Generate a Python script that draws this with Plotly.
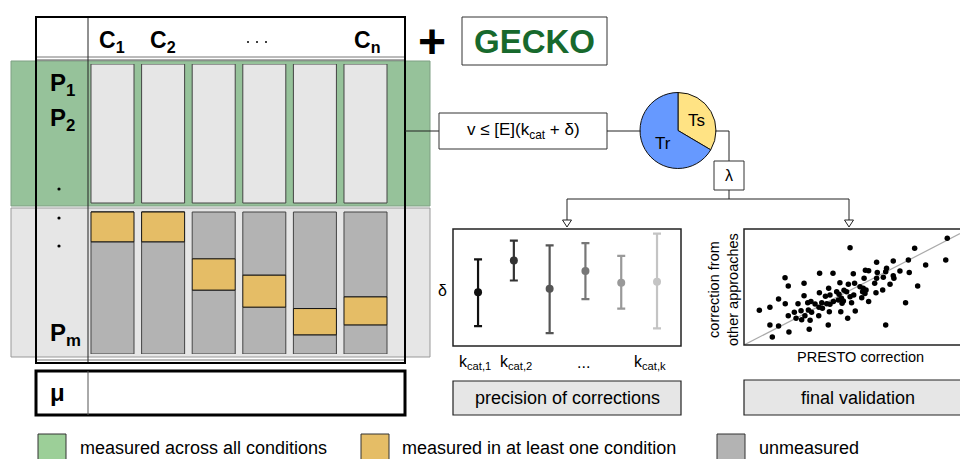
import plotly.graph_objects as go

W, H = 960, 459
FONT = "Liberation Sans, Arial, sans-serif"

# ---------------- data ----------------
condition_labels = ["C<sub>1</sub>", "C<sub>2</sub>", ". . .", "C<sub>n</sub>"]
protein_labels = ["P<sub>1</sub>", "P<sub>2</sub>", "P<sub>m</sub>"]
conditions = [1, 2, 3, 4, 5, 6]
# fraction of the lower protein block (bottom -> top)
unmeasured_low = [0.79, 0.79, 0.45, 0.33, 0.135, 0.205]
measured_some = [0.21, 0.21, 0.22, 0.225, 0.185, 0.197]

pie_labels = ["Ts", "Tr"]
pie_values = [33.5, 66.5]

kcat_labels = ["k<sub>cat,1</sub>", "k<sub>cat,2</sub>", "...", "k<sub>cat,k</sub>"]
kcat_mean = [4.6, 7.3, 4.9, 6.4, 5.4, 5.5]
kcat_upper = [7.4, 9.0, 8.6, 8.8, 7.7, 9.6]
kcat_lower = [1.7, 5.6, 1.1, 4.0, 3.2, 1.5]
kcat_colors = ["#111111", "#333333", "#555555", "#777777", "#999999", "#c4c4c4"]

presto_x = [94.1, 49.1, 79.0, 69.1, 61.4, 76.1, 93.4, 84.1, 57.7, 56.2, 66.0, 65.6,
            35.0, 41.2, 50.6, 19.0, 61.7, 76.5, 72.2, 69.1, 69.4, 64.5, 61.4, 55.6,
            20.5, 27.8, 44.4, 48.3, 51.2, 60.5, 67.6, 80.4, 39.2, 34.9, 42.9, 46.3,
            47.5, 53.7, 55.2, 56.5, 50.8, 54.9, 56.0, 64.2, 61.1, 27.8, 37.7, 39.8,
            44.0, 45.1, 43.7, 46.0, 41.4, 49.1, 16.0, 19.1, 25.0, 29.5, 31.0, 32.9,
            36.0, 38.3, 39.8, 49.8, 54.5, 57.7, 45.4, 74.8, 7.1, 12.0, 23.3, 26.4,
            29.8, 31.3, 34.7, 36.3, 39.5, 44.8, 51.5, 20.5, 24.1, 26.7, 28.2, 30.6,
            34.6, 48.0, 12.0, 16.0, 39.0, 65.6, 30.2, 20.8, 13.1]
other_y = [92.0, 83.9, 83.3, 72.4, 71.3, 73.3, 73.3, 69.0, 64.1, 64.4, 66.1, 63.2,
           61.8, 61.8, 61.5, 58.0, 62.6, 62.4, 63.8, 59.8, 57.5, 58.3, 57.5, 57.5,
           50.9, 53.2, 53.7, 52.3, 53.2, 53.2, 52.3, 50.9, 48.9, 45.1, 46.0, 47.1,
           46.0, 50.3, 48.9, 47.4, 43.1, 46.0, 44.5, 47.4, 45.1, 42.5, 42.0, 43.1,
           43.7, 40.2, 38.8, 37.9, 37.4, 41.7, 39.7, 35.6, 35.6, 36.5, 37.4, 35.3,
           36.5, 35.6, 35.1, 36.5, 40.8, 37.4, 35.9, 36.5, 29.9, 32.5, 28.2, 29.6,
           30.2, 28.2, 32.5, 31.6, 28.7, 28.7, 29.3, 25.3, 23.0, 21.8, 25.3, 21.3,
           25.3, 23.0, 17.2, 16.4, 17.2, 17.2, 13.5, 11.2, 6.9]
identity_x = [0, 100]
identity_y = [0, 96]

legend_labels = ["measured across all conditions", "measured in at least one condition", "unmeasured"]

# ---------------- styles ----------------
GREEN_BAND = "#96c29a"
GREEN_LEG = "#9ccf98"
LIGHT = "#e6e6e6"
GRAY = "#b3b3b3"
YELLOW = "#e5bd66"
BLUE = "#6699ff"
PALE_YEL = "#ffe384"

fig = go.Figure()

# stacked columns (lower block: unmeasured / measured in one / unmeasured; upper block: measured in all)
upper_base = 151 / 142
upper_h = 139 / 142
mid_base = unmeasured_low
top_base = [a + b for a, b in zip(unmeasured_low, measured_some)]
top_h = [1 - t for t in top_base]
bar_common = dict(xaxis="x3", yaxis="y3", width=0.85, hoverinfo="skip", showlegend=False)
fig.add_trace(go.Bar(x=conditions, y=[upper_h] * 6, base=[upper_base] * 6,
                     marker=dict(color=LIGHT, line=dict(color="#444", width=1)), **bar_common))
fig.add_trace(go.Bar(x=conditions, y=unmeasured_low, base=[0] * 6,
                     marker=dict(color=GRAY, line=dict(color="#444", width=1)), **bar_common))
fig.add_trace(go.Bar(x=conditions, y=top_h, base=top_base,
                     marker=dict(color=GRAY, line=dict(color="#444", width=1)), **bar_common))
fig.add_trace(go.Bar(x=conditions, y=measured_some, base=mid_base,
                     marker=dict(color=YELLOW, line=dict(color="#111", width=1)), **bar_common))

# pie
fig.add_trace(go.Pie(labels=pie_labels, values=pie_values, sort=False, direction="clockwise",
                     rotation=0, textinfo="none", hoverinfo="skip", showlegend=False,
                     marker=dict(colors=[PALE_YEL, BLUE], line=dict(color="#111", width=1)),
                     domain=dict(x=[640 / W, 716 / W], y=[1 - 168.5 / H, 1 - 92.5 / H])))

# error bars
for i, (m, up, lo, c) in enumerate(zip(kcat_mean, kcat_upper, kcat_lower, kcat_colors)):
    fig.add_trace(go.Scatter(x=[i], y=[m], mode="markers", xaxis="x2", yaxis="y2",
                             marker=dict(color=c, size=8),
                             error_y=dict(type="data", symmetric=False, array=[up - m],
                                          arrayminus=[m - lo], color=c, thickness=2.2, width=4),
                             hoverinfo="skip", showlegend=False))

# scatter validation
fig.add_trace(go.Scatter(x=identity_x, y=identity_y, mode="lines", xaxis="x4", yaxis="y4",
                         line=dict(color="#aaaaaa", width=1.2), hoverinfo="skip", showlegend=False))
fig.add_trace(go.Scatter(x=presto_x, y=other_y, mode="markers", xaxis="x4", yaxis="y4",
                         marker=dict(color="black", size=5.5), hoverinfo="skip", showlegend=False))

shapes = []


def rect(x0, y0, x1, y1, fill="rgba(0,0,0,0)", lc="black", lw=1, layer="above"):
    shapes.append(dict(type="rect", xref="x", yref="y", x0=x0, y0=y0, x1=x1, y1=y1,
                       fillcolor=fill, line=dict(color=lc, width=lw), layer=layer))


def seg(x0, y0, x1, y1, lc="#222", lw=1, layer="above"):
    shapes.append(dict(type="line", xref="x", yref="y", x0=x0, y0=y0, x1=x1, y1=y1,
                       line=dict(color=lc, width=lw), layer=layer))


def dot(x, y, r=1.6):
    shapes.append(dict(type="circle", xref="x", yref="y", x0=x - r, y0=y - r, x1=x + r, y1=y + r,
                       fillcolor="black", line=dict(width=0), layer="above"))


# background bands
rect(11, 61, 430, 206, fill=GREEN_BAND, lc="#7f9f83", lw=1, layer="below")
rect(11, 208, 430, 357, fill=LIGHT, lc="#999", lw=1, layer="below")
# table frame
seg(36, 57, 405, 57, lc="#777", lw=1)
seg(36, 60, 405, 60, lc="#555", lw=1)
seg(36, 360, 405, 360, lc="#777", lw=1)
seg(88, 17, 88, 363, lc="#222", lw=1)
rect(36, 17, 405, 363, lc="black", lw=2)
# mu row
rect(36, 371, 405, 415, fill="white", lc="black", lw=3)
seg(88, 371, 88, 415, lc="#555", lw=1)
# dots in protein column
for yy in (189, 218, 246):
    dot(59, yy)
for xx in (248, 257, 266):
    dot(xx, 42, 1.0)
# GECKO box
rect(462, 17, 607, 65, lc="#333", lw=1)
# formula box and connectors
seg(405, 131, 439, 131)
rect(439, 113, 607, 149, fill="white", lc="#333", lw=1)
seg(607, 131, 641, 131)
seg(715, 131, 729, 131)
seg(729, 131, 729, 161)
rect(714, 161, 744, 190, fill="white", lc="#333", lw=1)
seg(729, 190, 729, 199)
seg(567, 199, 849, 199)
seg(567, 199, 567, 220)
seg(849, 199, 849, 220)
for ax_ in (567, 849):
    shapes.append(dict(type="path", xref="x", yref="y",
                       path=f"M {ax_-4.5},220 L {ax_+4.5},220 L {ax_},227 Z",
                       fillcolor="white", line=dict(color="#222", width=1), layer="above"))
# panels
rect(453, 229, 681, 346, lc="#222", lw=1.5)
rect(744, 229, 975, 345, lc="#222", lw=1.5)
rect(453, 381, 681, 415, fill=LIGHT, lc="#222", lw=1.2)
rect(744, 380, 975, 415, fill=LIGHT, lc="#222", lw=1.2)
# legend squares
for x0, col in zip((38, 361, 717), (GREEN_LEG, YELLOW, GRAY)):
    rect(x0, 434, x0 + 28, 462, fill=col, lc="#333", lw=1)

annotations = []


def ann(x, y, text, size, color="black", xanchor="center", yanchor="middle", angle=0):
    annotations.append(dict(xref="x", yref="y", x=x, y=y, text=text, showarrow=False,
                            font=dict(family=FONT, size=size, color=color),
                            xanchor=xanchor, yanchor=yanchor, textangle=angle))


# header
for lbl, xx in zip(condition_labels, (112, 163, None, 367)):
    if xx is not None:
        ann(xx, 41, f"<b>{lbl}</b>", 23)
ann(62, 84, f"<b>{protein_labels[0]}</b>", 24)
ann(62, 119, f"<b>{protein_labels[1]}</b>", 24)
ann(65, 334, f"<b>{protein_labels[2]}</b>", 24)
ann(57, 392, "<b>μ</b>", 24)
ann(432, 41, "<b>+</b>", 48)
ann(534, 41, "<b>GECKO</b>", 33, color="#17692d")
ann(523, 131, "v ≤ [E](k<sub>cat</sub> + δ)", 17)
ann(696, 120, "Ts", 17)
ann(663, 143, "Tr", 17)
ann(729, 175.5, "λ", 16)
ann(442, 290, "δ", 16)
for lbl, xx in zip(kcat_labels, (475, 516, 583, 650)):
    ann(xx, 362, lbl, 16)
ann(567, 398, "precision of corrections", 18)
ann(858, 398, "final validation", 18)
ann(860, 357, "PRESTO correction", 14.5)
ann(723, 290, "correction from<br>other approaches", 14.5, angle=-90)
for x0, lbl in zip((78, 400, 757), legend_labels):
    ann(x0, 448, lbl, 18, xanchor="left")

hidden = dict(visible=False, showgrid=False, zeroline=False, fixedrange=True)
fig.update_layout(
    width=W, height=H, margin=dict(l=0, r=0, t=0, b=0),
    paper_bgcolor="white", plot_bgcolor="rgba(0,0,0,0)",
    barmode="overlay", showlegend=False,
    xaxis=dict(range=[0, W], domain=[0, 1], **hidden),
    yaxis=dict(range=[H, 0], domain=[0, 1], **hidden),
    xaxis2=dict(range=[-0.7, 5.67], domain=[453 / W, 681 / W], anchor="y2", **hidden),
    yaxis2=dict(range=[0, 10], domain=[1 - 346 / H, 1 - 229 / H], anchor="x2", **hidden),
    xaxis3=dict(range=[0.5, 6.5], domain=[87.2 / W, 390.8 / W], anchor="y3", **hidden),
    yaxis3=dict(range=[0, 290 / 142], domain=[1 - 354 / H, 1 - 64 / H], anchor="x3", **hidden),
    xaxis4=dict(range=[0, 100], domain=[744 / W, 1], anchor="y4", **hidden),
    yaxis4=dict(range=[0, 100], domain=[1 - 345 / H, 1 - 229 / H], anchor="x4", **hidden),
    shapes=shapes, annotations=annotations,
    font=dict(family=FONT),
)

fig.write_html("out.html")
